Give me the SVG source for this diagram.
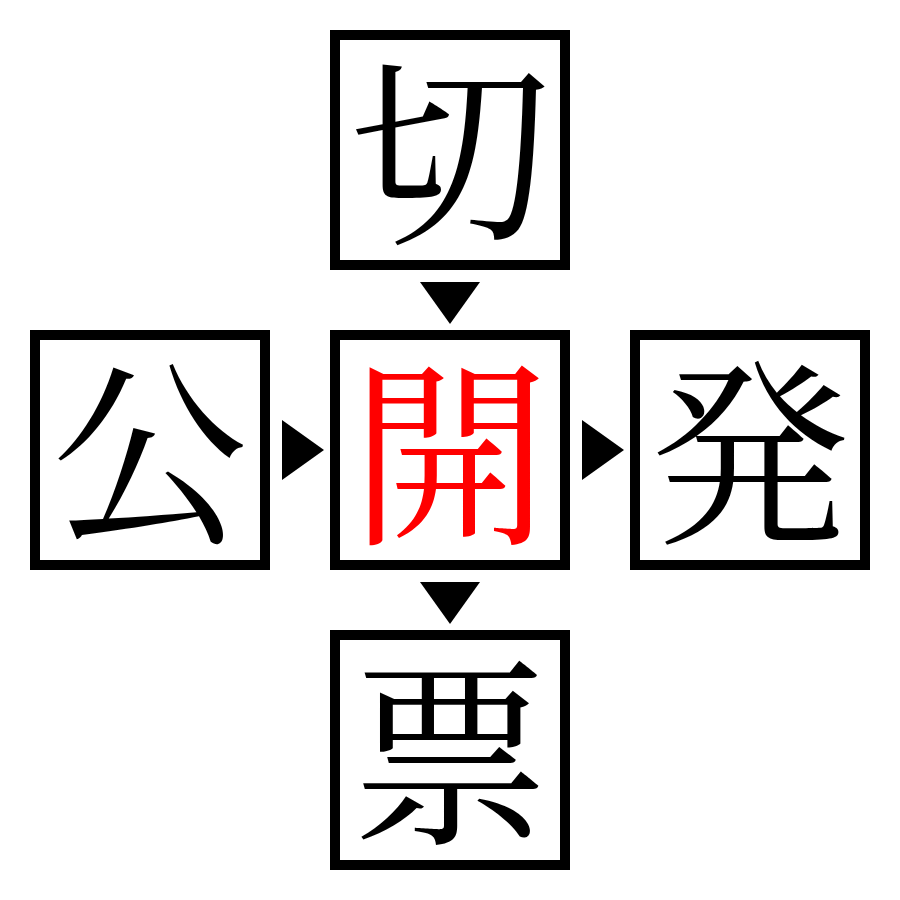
<svg xmlns="http://www.w3.org/2000/svg" width="900" height="900" viewBox="0 0 900 900">
<style>
.box{fill:#fff;stroke:#000;stroke-width:10}
.ch{font-family:"Noto Serif CJK JP","Noto Sans CJK JP",serif;font-size:200px;text-anchor:middle;dominant-baseline:central;fill:#000}
.red{fill:#ff0000}
.arr{fill:#000}
</style>
<rect width="900" height="900" fill="#fff"/>
<g id="connectors">
<polygon class="arr" points="420,282 480,282 450,324"/>
<polygon class="arr" points="282,420 282,480 324,450"/>
<polygon class="arr" points="582,420 582,480 624,450"/>
<polygon class="arr" points="420,582 480,582 450,624"/>
</g>
<g id="n-top"><rect class="box" x="335" y="35" width="230" height="230"/><text class="ch" x="450" y="142">切</text></g>
<g id="n-left"><rect class="box" x="35" y="335" width="230" height="230"/><text class="ch" x="150" y="442">公</text></g>
<g id="n-center"><rect class="box" x="335" y="335" width="230" height="230"/><text class="ch red" x="450" y="442">開</text></g>
<g id="n-right"><rect class="box" x="635" y="335" width="230" height="230"/><text class="ch" x="750" y="442">発</text></g>
<g id="n-bottom"><rect class="box" x="335" y="635" width="230" height="230"/><text class="ch" x="450" y="742">票</text></g>
</svg>
